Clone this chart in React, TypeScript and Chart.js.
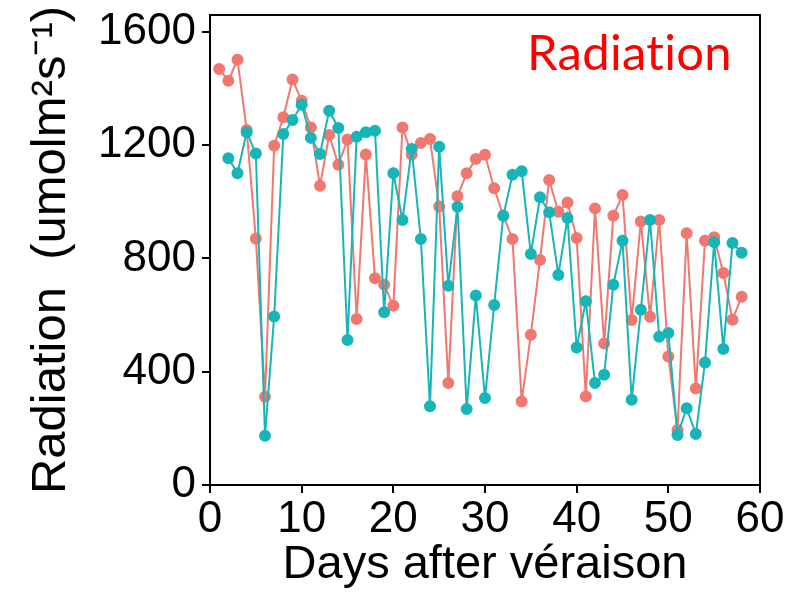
import React, { useEffect, useRef } from "react";
import { Chart, registerables } from "chart.js";

Chart.register(...registerables);

const redDays = [1, 2, 3, 4, 5, 6, 7, 8, 9, 10, 11, 12, 13, 14, 15, 16, 17, 18, 19, 20, 21, 22, 23, 24, 25, 26, 27, 28, 29, 30, 31, 32, 33, 34, 35, 36, 37, 38, 39, 40, 41, 42, 43, 44, 45, 46, 47, 48, 49, 50, 51, 52, 53, 54, 55, 56, 57, 58];
const redValues = [1469, 1428, 1502, 1254, 871, 312, 1198, 1299, 1432, 1357, 1263, 1057, 1236, 1131, 1220, 586, 1167, 730, 707, 633, 1263, 1167, 1208, 1222, 984, 360, 1020, 1101, 1151, 1166, 1048, 951, 869, 295, 531, 795, 1077, 965, 998, 872, 313, 977, 500, 951, 1024, 583, 931, 594, 936, 454, 194, 889, 341, 863, 875, 749, 584, 665];

const tealDays = [2, 3, 4, 5, 6, 7, 8, 9, 10, 11, 12, 13, 14, 15, 16, 17, 18, 19, 20, 21, 22, 23, 24, 25, 26, 27, 28, 29, 30, 31, 32, 33, 34, 35, 36, 37, 38, 39, 40, 41, 42, 43, 44, 45, 46, 47, 48, 49, 50, 51, 52, 53, 54, 55, 56, 57, 58];
const tealValues = [1154, 1101, 1246, 1171, 174, 595, 1240, 1289, 1343, 1226, 1169, 1322, 1261, 512, 1230, 1246, 1251, 610, 1101, 936, 1187, 869, 278, 1195, 704, 983, 268, 669, 307, 636, 951, 1096, 1108, 816, 1016, 963, 742, 943, 486, 649, 360, 389, 707, 863, 301, 619, 936, 524, 537, 177, 271, 180, 433, 857, 480, 855, 820];

const yTicks = [0, 400, 800, 1200, 1600];
const xTicks = [0, 10, 20, 30, 40, 50, 60];

const RED = "#F07870";
const TEAL = "#17B5B7";
const FONT = "'Liberation Sans', Arial, sans-serif";

const framePlugin = {
  id: "frame",
  afterDraw(chart: any) {
    const { ctx, chartArea } = chart;
    ctx.save();
    ctx.strokeStyle = "#000";
    ctx.lineWidth = 2;
    ctx.beginPath();
    ctx.moveTo(chartArea.left, chartArea.top);
    ctx.lineTo(chartArea.right, chartArea.top);
    ctx.lineTo(chartArea.right, chartArea.bottom);
    ctx.stroke();
    ctx.fillStyle = "#FF0000";
    ctx.font = "49px Lato, 'Open Sans', sans-serif";
    try { (ctx as any).letterSpacing = "0.3px"; } catch (e) {}
    ctx.textAlign = "right";
    ctx.textBaseline = "alphabetic";
    ctx.fillText("Radiation", chartArea.right - 28, 70);
    ctx.restore();
  },
};

export default function App() {
  const ref = useRef<HTMLCanvasElement | null>(null);
  useEffect(() => {
    if (!ref.current) return;
    const chart = new Chart(ref.current, {
      type: "line",
      data: {
        datasets: [
          {
            label: "B",
            data: tealDays.map((d, i) => ({ x: d, y: tealValues[i] })),
            borderColor: TEAL,
            backgroundColor: TEAL,
            pointBackgroundColor: TEAL,
            pointBorderColor: TEAL,
            pointRadius: 5,
            borderWidth: 2,
            tension: 0,
          },
          {
            label: "A",
            data: redDays.map((d, i) => ({ x: d, y: redValues[i] })),
            borderColor: RED,
            backgroundColor: RED,
            pointBackgroundColor: RED,
            pointBorderColor: RED,
            pointRadius: 5,
            borderWidth: 2,
            tension: 0,
          },
        ],
      },
      options: {
        responsive: false,
        animation: false,
        layout: { padding: { top: 15, right: 32, left: 22, bottom: 0 } },
        plugins: { legend: { display: false }, tooltip: { enabled: false } },
        scales: {
          x: {
            type: "linear",
            min: 0,
            max: 60,
            afterBuildTicks: (s: any) => {
              s.ticks = xTicks.map((v) => ({ value: v }));
            },
            afterFit: (s: any) => {
              s.height = 108;
              s.paddingLeft = 0;
              s.paddingRight = 0;
            },
            grid: { display: true, drawOnChartArea: false, drawTicks: true, tickLength: 8, color: "#000", lineWidth: 2 },
            border: { display: true, color: "#000", width: 2 },
            ticks: { color: "#000", font: { family: FONT, size: 44 }, padding: 0, maxRotation: 0, callback: (v: any) => String(v) },
            title: { display: true, text: "Days after véraison", color: "#000", font: { family: FONT, size: 47 }, padding: { top: -8, bottom: 0 } },
          },
          y: {
            min: 0,
            max: 1660,
            afterBuildTicks: (s: any) => {
              s.ticks = yTicks.map((v) => ({ value: v }));
            },
            afterFit: (s: any) => {
              s.width = 188;
              s.paddingTop = 0;
              s.paddingBottom = 0;
            },
            grid: { display: true, drawOnChartArea: false, drawTicks: true, tickLength: 8, color: "#000", lineWidth: 2 },
            border: { display: true, color: "#000", width: 2 },
            ticks: { color: "#000", font: { family: FONT, size: 44 }, padding: 6, callback: (v: any) => String(v) },
            title: { display: true, text: "Radiation  (umolm²s⁻¹)", color: "#000", font: { family: FONT, size: 49 }, padding: { top: 0, bottom: 0 } },
          },
        },
      },
      plugins: [framePlugin],
    });
    return () => chart.destroy();
  }, []);
  return (
    <div style={{ position: "fixed", left: 0, top: 0, width: 792, height: 593, background: "#fff" }}>
      <canvas ref={ref} width={792} height={593} />
    </div>
  );
}
